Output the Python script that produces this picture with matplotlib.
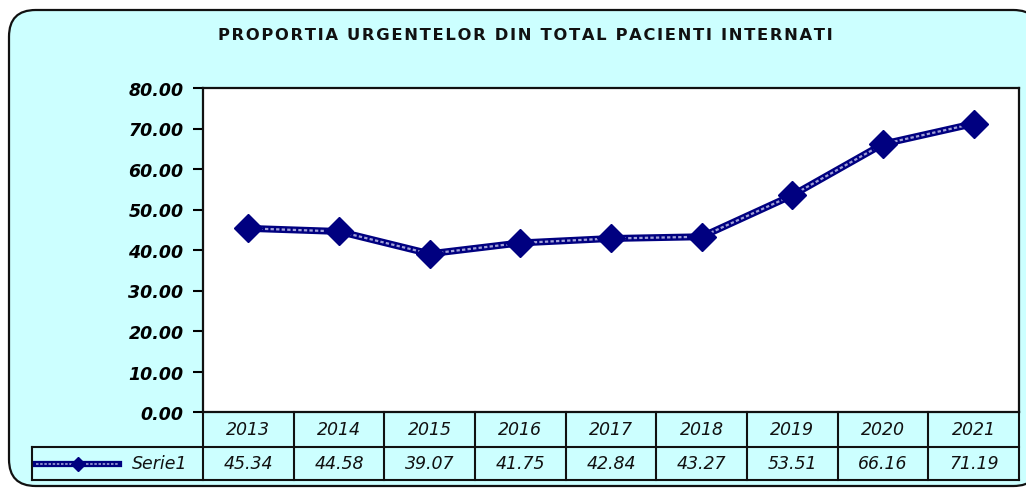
import matplotlib
matplotlib.use("Agg")
import matplotlib.pyplot as plt
from matplotlib.patches import FancyBboxPatch
from matplotlib.lines import Line2D
from matplotlib.transforms import blended_transform_factory

years = ["2013", "2014", "2015", "2016", "2017", "2018", "2019", "2020", "2021"]
values = [45.34, 44.58, 39.07, 41.75, 42.84, 43.27, 53.51, 66.16, 71.19]
series_name = "Serie1"
title = "PROPORTIA URGENTELOR DIN TOTAL PACIENTI INTERNATI"
yticks = [0, 10, 20, 30, 40, 50, 60, 70, 80]

W, H = 1026, 489
BG = "#CCFFFF"
NAVY = "#000080"


def fx(px):
    return px / W


def fy(py):
    return 1 - py / H


fig = plt.figure(figsize=(W / 100, H / 100), dpi=100)
fig.patch.set_facecolor("white")

# rounded cyan frame (runs past the right edge in the reference)
frame = FancyBboxPatch((fx(9), fy(487)), fx(1040 - 9), fy(11) - fy(487),
                       boxstyle="round,pad=0,rounding_size=0.026",
                       transform=fig.transFigure, facecolor=BG,
                       edgecolor="#111111", linewidth=1.6, zorder=-5,
                       mutation_aspect=W / H)
fig.patches.append(frame)

# letter-spaced title, as in the reference
fig.text(fx(525), fy(35), "\u200a".join(title), ha="center", va="center",
         fontsize=11.8, fontweight="bold", color="#111111",
         family=["DejaVu Sans"])

# plot area
left, right, top, bottom = 203, 1019, 89, 413
ax = fig.add_axes([fx(left), fy(bottom), fx(right - left), fy(top) - fy(bottom)])
ax.set_facecolor("white")
x = list(range(len(years)))
ax.set_xlim(-0.5, len(years) - 0.5)
ax.set_ylim(0, 80)

ax.plot(x, values, color=NAVY, lw=5, solid_capstyle="round", zorder=3)
ax.plot(x, values, color="#A0A0D8", lw=1.6, ls=(0, (1.5, 1.0)), zorder=4)
ax.plot(x, values, ls="none", marker="D", ms=14, color=NAVY, zorder=5)

ax.set_yticks(yticks)
ax.set_yticklabels([f"{v:.2f}" for v in yticks], fontsize=12.5,
                   fontweight="bold", fontstyle="italic")
ax.tick_params(axis="y", direction="out", length=7, width=1.5, pad=7)
ax.set_xticks([])
for s in ax.spines.values():
    s.set_linewidth(1.6)
    s.set_color("#111111")

# data table under the axis
trans = blended_transform_factory(ax.transData, fig.transFigure)
row1_top, row1_bot, row2_bot = 413, 448, 481
lw = 1.5
col_edges = [i - 0.5 for i in range(len(years) + 1)]
for xe in col_edges:
    fig.add_artist(Line2D([xe, xe], [fy(row1_top), fy(row2_bot)],
                          transform=trans, color="#111111", lw=lw))
fig.add_artist(Line2D([fx(32), fx(right)], [fy(row1_bot), fy(row1_bot)],
                      transform=fig.transFigure, color="#111111", lw=lw))
fig.add_artist(Line2D([fx(32), fx(right)], [fy(row2_bot), fy(row2_bot)],
                      transform=fig.transFigure, color="#111111", lw=lw))
fig.add_artist(Line2D([fx(32), fx(32)], [fy(row1_bot), fy(row2_bot)],
                      transform=fig.transFigure, color="#111111", lw=lw))

for xi, yr, v in zip(x, years, values):
    fig.text(xi, fy((row1_top + row1_bot) / 2), yr, transform=trans,
             ha="center", va="center", fontsize=12.5, fontstyle="italic",
             color="#111111")
    fig.text(xi, fy((row1_bot + row2_bot) / 2), f"{v:.2f}", transform=trans,
             ha="center", va="center", fontsize=12.5, fontstyle="italic",
             color="#111111")

# legend key in the table
ky = fy((row1_bot + row2_bot) / 2)
fig.add_artist(Line2D([fx(36), fx(119)], [ky, ky], transform=fig.transFigure,
                      color=NAVY, lw=4.5))
fig.add_artist(Line2D([fx(36), fx(119)], [ky, ky], transform=fig.transFigure,
                      color="#A0A0D8", lw=1.2, ls=(0, (1.5, 1.0))))
fig.add_artist(Line2D([fx(78)], [ky], transform=fig.transFigure, marker="D",
                      ms=7, color=NAVY, ls="none"))
fig.text(fx(187), ky, series_name, ha="right", va="center", fontsize=12.5,
         fontstyle="italic", color="#111111")

fig.savefig("out.png", dpi=100, facecolor=fig.get_facecolor())
